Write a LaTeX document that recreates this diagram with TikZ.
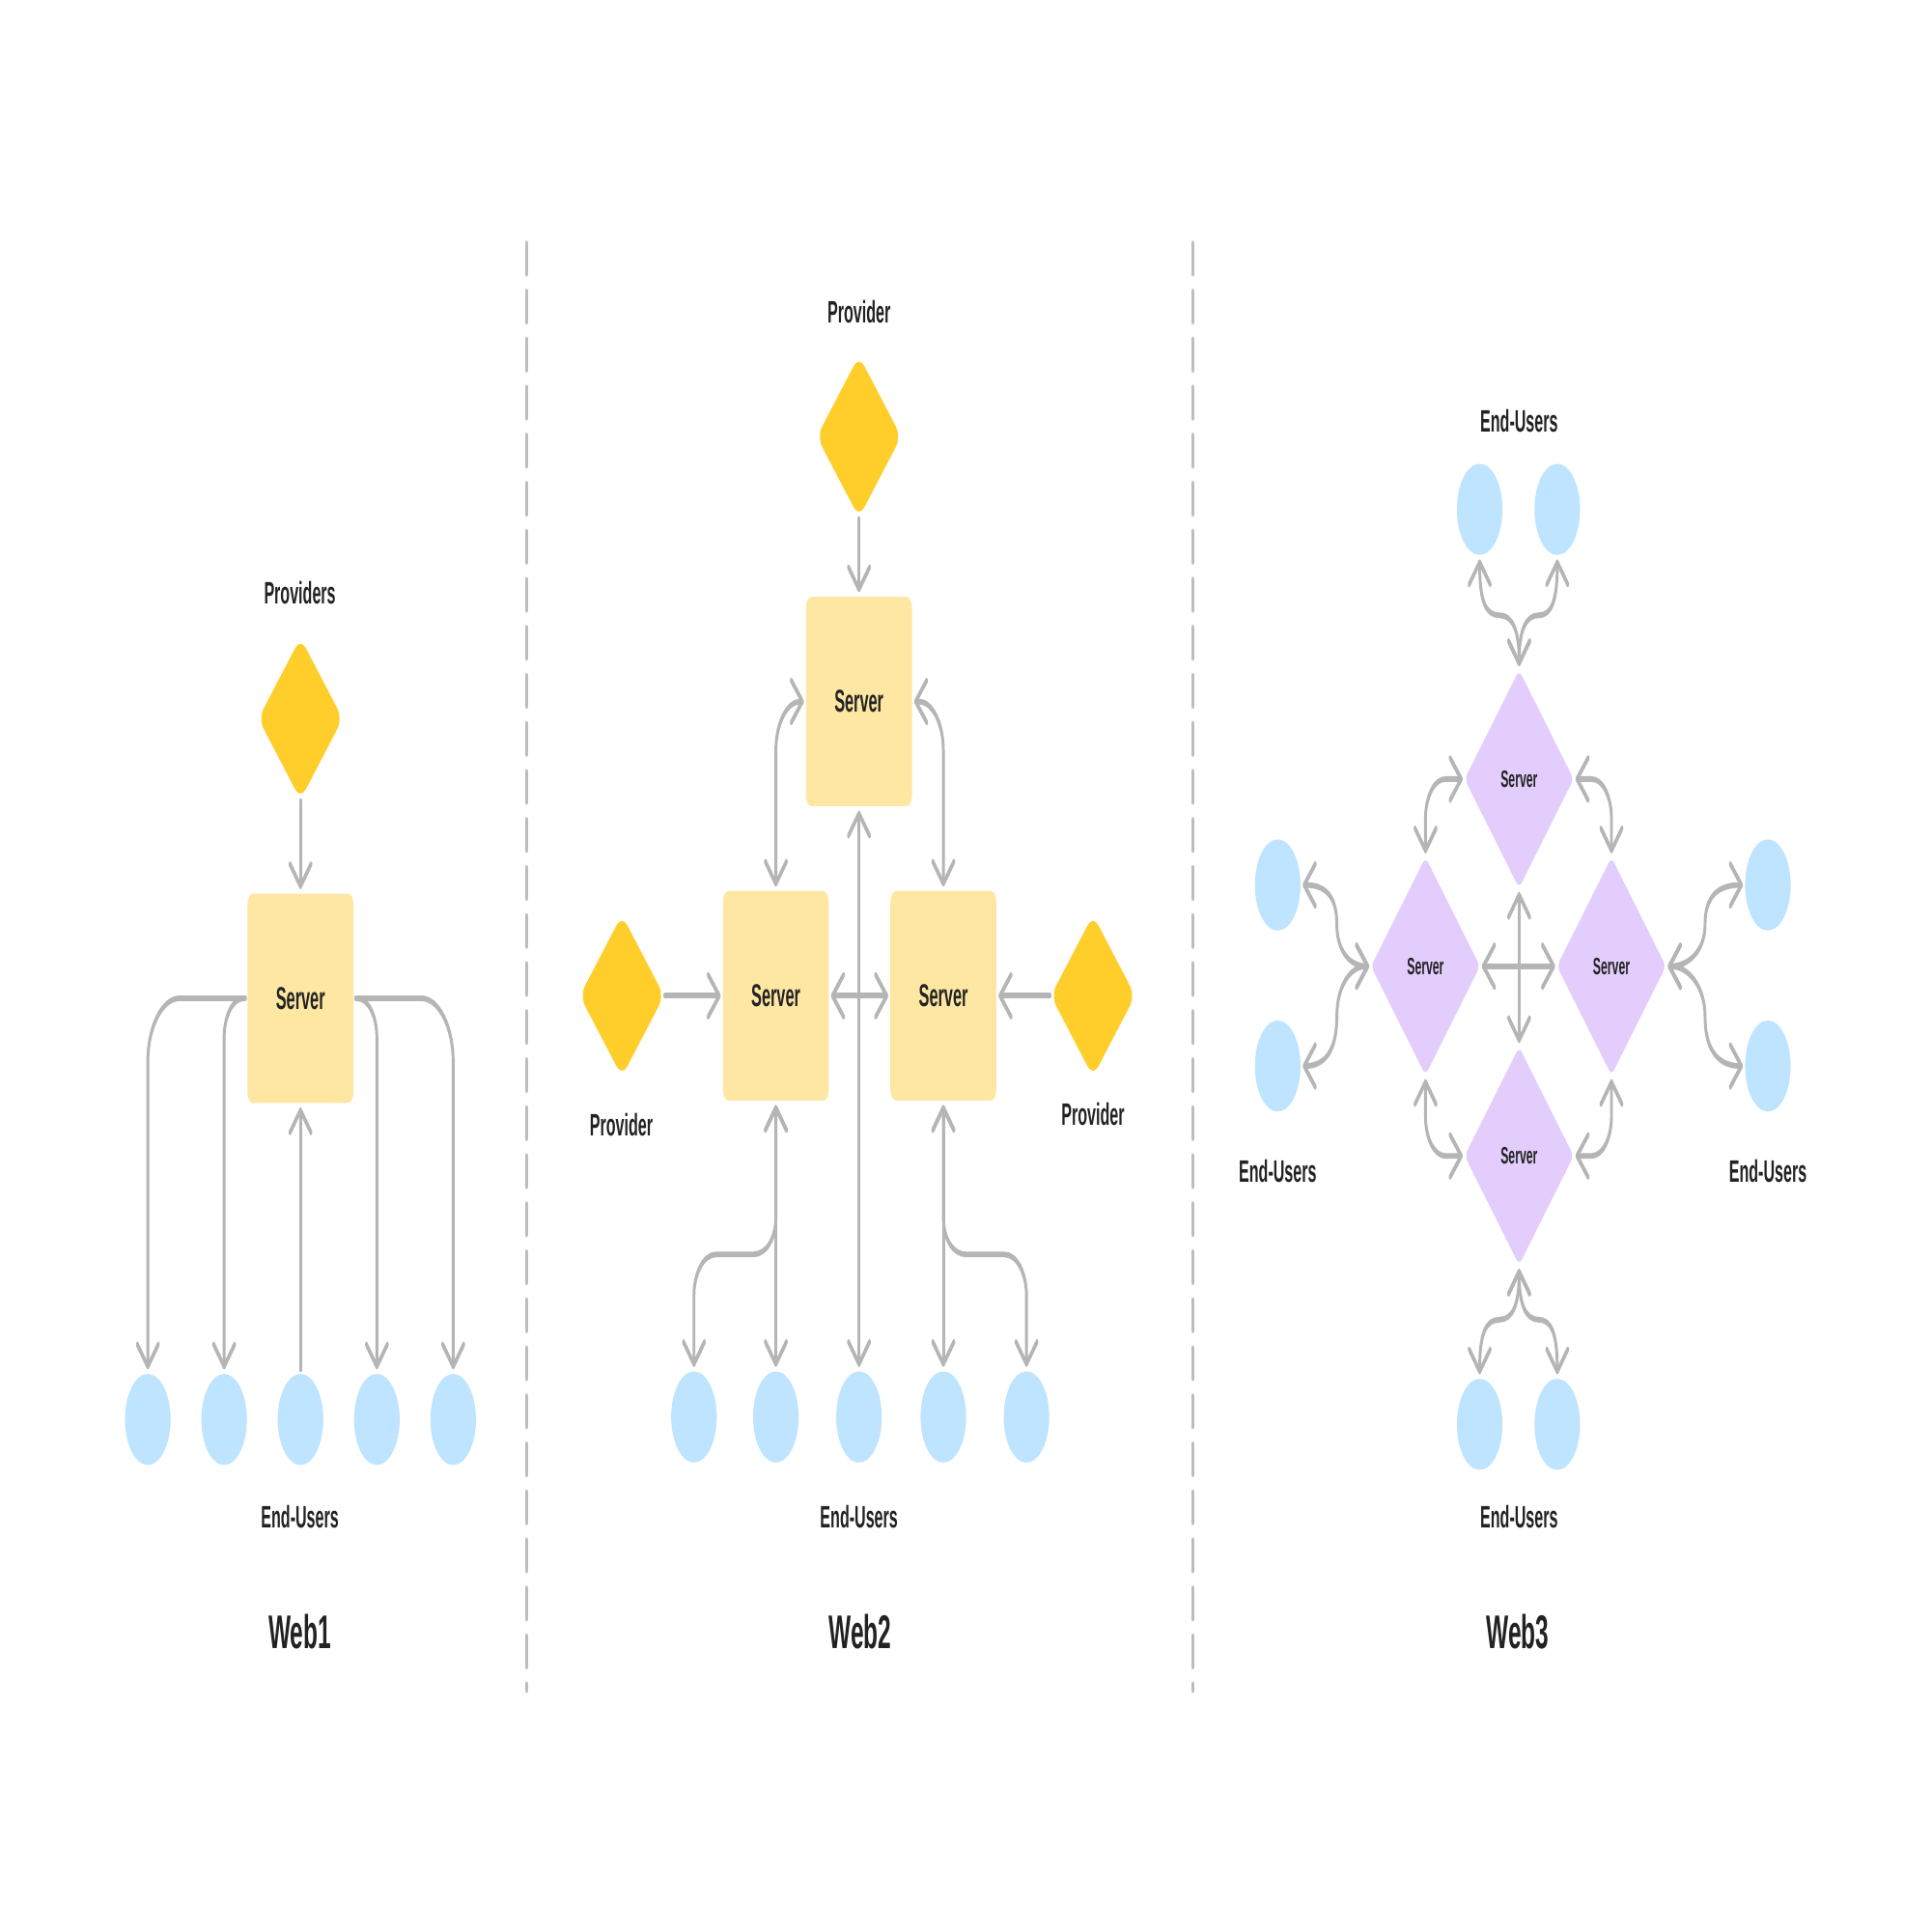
\documentclass[tikz,border=0pt]{standalone}
\usepackage{fontspec}
\setmainfont{Liberation Sans}
\usetikzlibrary{arrows.meta,shapes.geometric}
\definecolor{ink}{HTML}{222222}
\definecolor{conn}{HTML}{B5B5B5}
\definecolor{sep}{HTML}{BDBDBD}
\definecolor{paleY}{HTML}{FEE7A3}
\definecolor{gold}{HTML}{FFCE2B}
\definecolor{sky}{HTML}{BFE4FF}
\definecolor{lilac}{HTML}{E3CDFD}
\tikzset{
  lab/.style={font=\fontsize{6.3}{7}\selectfont\bfseries,text=ink,inner sep=0pt},
  ttl/.style={font=\fontsize{9.6}{11}\selectfont\bfseries,text=ink,inner sep=0pt},
  srv/.style={rectangle,rounded corners=2.2pt,fill=paleY,minimum width=43pt,minimum height=42.5pt,inner sep=0pt,font=\fontsize{6.4}{7}\selectfont\bfseries,text=ink},
  prov/.style={diamond,aspect=1,rounded corners=3pt,fill=gold,minimum width=34.4pt,minimum height=33pt,inner sep=0pt},
  psrv/.style={diamond,aspect=1,rounded corners=1.5pt,fill=lilac,minimum width=44.4pt,minimum height=44.4pt,inner sep=0pt,font=\fontsize{4.8}{5}\selectfont\bfseries,text=ink},
  usr/.style={circle,fill=sky,minimum size=18.5pt,inner sep=0pt},
  cn/.style={draw=conn,line width=1.15pt,line cap=round,line join=round,shorten >=.7pt,shorten <=.7pt},
  a/.style={cn,-{Straight Barb[length=4.5pt,width=8.5pt,round]}},
  ab/.style={cn,{Straight Barb[length=4.5pt,width=8.5pt,round]}-{Straight Barb[length=4.5pt,width=8.5pt,round]}},
  dv/.style={draw=sep,line width=1.1pt,line cap=round,dash pattern=on 6.2pt off 3.55pt},
}
\begin{document}
\begin{tikzpicture}
\fill[white] (0pt,0pt) rectangle (784pt,-784pt);
\begin{scope}[transform canvas={yscale=2},x=0.5pt,y=-0.25pt,xshift=.25pt,yshift=-.15pt]
% separators
\coordinate (s1a) at (427,197); \coordinate (s1b) at (427,1372);
\coordinate (s2a) at (968,197); \coordinate (s2b) at (968,1372);
\draw[dv] (s1a) -- (s1b);
\draw[dv] (s2a) -- (s2b);

% ---------- Web1
\node[lab] (l1) at (243,481) {Providers};
\node[prov] (p1) at (243.5,583) {};
\node[srv] (s1) at (243.5,810) {Server};
\foreach \n/\x in {u1/119.5,u2/181.5,u3/243.5,u4/305.5,u5/367.5}
  \node[usr] (\n) at (\x,1152) {};
\node[lab] (l2) at (243,1231) {End-Users};
\node[ttl] (t1) at (243,1324) {Web1};
\draw[a,shorten <=0pt] (p1.south) -- (s1.north);
\draw[a,rounded corners=13pt] (s1.west) -| (u1.north);
\draw[a,rounded corners=8pt] (s1.west) -| (u2.north);
\draw[a] (u3.north) -- (s1.south);
\draw[a,rounded corners=8pt] (s1.east) -| (u4.north);
\draw[a,rounded corners=13pt] (s1.east) -| (u5.north);

% ---------- Web2
\node[lab] (l3) at (697,253) {Provider};
\node[prov] (p2) at (697,354) {};
\node[srv] (s2) at (697,569) {Server};
\node[srv] (s3) at (629.5,808) {Server};
\node[srv] (s4) at (765.5,808) {Server};
\node[prov] (p3) at (504.5,808) {};
\node[prov] (p4) at (887,808) {};
\node[lab] (l4) at (504,913) {Provider};
\node[lab] (l5) at (887,904) {Provider};
\foreach \n/\x in {v1/563,v2/629.5,v3/697,v4/765.5,v5/833}
  \node[usr] (\n) at (\x,1150) {};
\node[lab] (l6) at (697,1231) {End-Users};
\node[ttl] (t2) at (698,1324) {Web2};
\draw[a,shorten <=0pt] (p2.south) -- (s2.north);
\draw[a,shorten <=0pt] (p3.east) -- (s3.west);
\draw[a,shorten <=0pt] (p4.west) -- (s4.east);
\draw[ab] (s3.east) -- (s4.west);
\draw[ab,rounded corners=10pt] (s3.north) |- (s2.west);
\draw[ab,rounded corners=10pt] (s4.north) |- (s2.east);
\draw[ab] (s2.south) -- (v3.north);
\draw[ab] (s3.south) -- (v2.north);
\draw[ab] (s4.south) -- (v4.north);
\draw[ab] (s3.south) -- (629.5,987) .. controls (629.5,1005) and (622,1018) .. (611,1018) -- (581,1018) .. controls (570,1018) and (563,1035) .. (563,1051) -- (v1.north);
\draw[ab] (s4.south) -- (765.5,987) .. controls (765.5,1005) and (773,1018) .. (784,1018) -- (815,1018) .. controls (826,1018) and (833,1035) .. (833,1051) -- (v5.north);

% ---------- Web3
\node[psrv] (d1) at (1233,632) {Server};
\node[psrv] (d2) at (1157,784) {Server};
\node[psrv] (d3) at (1308,784) {Server};
\node[psrv] (d4) at (1233,938) {Server};
\node[usr] (w1) at (1201,413) {};
\node[usr] (w2) at (1264,413) {};
\node[usr] (w3) at (1037,718) {};
\node[usr] (w4) at (1037,865) {};
\node[usr] (w5) at (1435,718) {};
\node[usr] (w6) at (1435,865) {};
\node[usr] (w7) at (1201,1156) {};
\node[usr] (w8) at (1264,1156) {};
\node[lab] (l7) at (1233,341) {End-Users};
\node[lab] (l8) at (1037,950) {End-Users};
\node[lab] (l9) at (1435,950) {End-Users};
\node[lab] (l10) at (1233,1231) {End-Users};
\node[ttl] (t3) at (1232,1324) {Web3};
\tikzset{ab3/.style={ab,shorten <=.5pt}}
\draw[ab3,rounded corners=8pt,shorten >=.5pt] (d1.west) -| (d2.north);
\draw[ab3,rounded corners=8pt,shorten >=.5pt] (d1.east) -| (d3.north);
\draw[ab3,rounded corners=8pt,shorten >=.5pt] (d4.west) -| (d2.south);
\draw[ab3,rounded corners=8pt,shorten >=.5pt] (d4.east) -| (d3.south);
\draw[ab3,shorten >=.5pt] (d2.east) -- (d3.west);
\draw[ab3,shorten >=.5pt] (d1.south) -- (d4.north);
\draw[ab3] (d1.north) .. controls (1233,512) and (1228,499) .. (1217,499) .. controls (1206,499) and (1201,488) .. (w1.south);
\draw[ab3] (d1.north) .. controls (1233,512) and (1238,499) .. (1249,499) .. controls (1259,499) and (1264,488) .. (w2.south);
\draw[ab3] (d4.south) .. controls (1233,1058) and (1228,1071) .. (1217,1071) .. controls (1206,1071) and (1201,1082) .. (w7.north);
\draw[ab3] (d4.south) .. controls (1233,1058) and (1238,1071) .. (1249,1071) .. controls (1259,1071) and (1264,1082) .. (w8.north);
\draw[ab3] (d2.west) .. controls (1096,784) and (1085,772) .. (1085,750) .. controls (1085,730) and (1078,718) .. (w3.east);
\draw[ab3] (d2.west) .. controls (1096,784) and (1085,800) .. (1085,825) .. controls (1085,848) and (1078,865) .. (w4.east);
\draw[ab3] (d3.east) .. controls (1370,784) and (1384,772) .. (1384,750) .. controls (1384,730) and (1392,718) .. (w5.west);
\draw[ab3] (d3.east) .. controls (1370,784) and (1384,800) .. (1384,825) .. controls (1384,848) and (1392,865) .. (w6.west);
\end{scope}
\end{tikzpicture}
\end{document}
